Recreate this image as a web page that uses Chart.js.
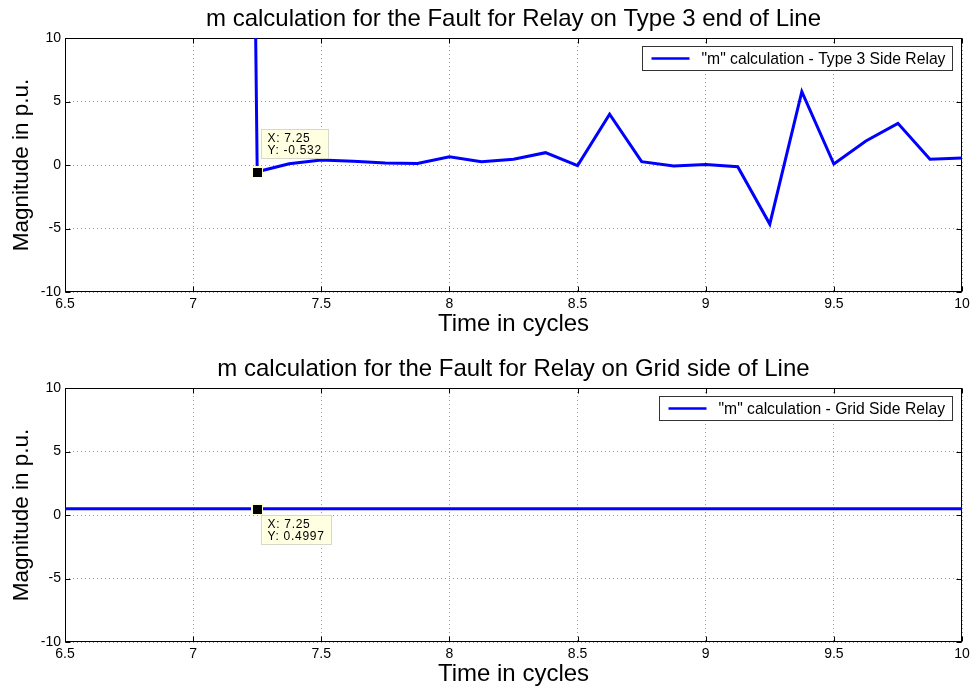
<!DOCTYPE html>
<html>
<head>
<meta charset="utf-8">
<script src="https://cdn.jsdelivr.net/npm/chart.js@4.4.0/dist/chart.umd.min.js"></script>
<style>
  html, body { margin: 0; padding: 0; background: #fff; overflow: hidden; }
  canvas { display: block; }
</style>
</head>
<body>
<canvas id="type3Chart" width="974" height="350"></canvas>
<canvas id="gridChart" width="974" height="337"></canvas>
<script>
// Time axis samples (cycles) and "m" values for the Type 3 end relay
const type3Times = [7.125, 7.25, 7.375, 7.5, 7.625, 7.75, 7.875, 8.0, 8.125, 8.25, 8.375, 8.5,
                    8.625, 8.75, 8.875, 9.0, 9.125, 9.25, 9.375, 9.5, 9.625, 9.75, 9.875, 10.0];
const type3Values = [220, -0.532, 0.1, 0.4, 0.3, 0.15, 0.12, 0.65, 0.25, 0.45, 0.97, -0.05,
                     4.0, 0.26, -0.08, 0.03, -0.13, -4.65, 5.77, 0.08, 1.89, 3.28, 0.45, 0.55];

// Time axis samples (cycles) and "m" values for the grid side relay
const gridTimes = [6.5, 6.625, 6.75, 6.875, 7.0, 7.125, 7.25, 7.375, 7.5, 7.625, 7.75, 7.875,
                   8.0, 8.125, 8.25, 8.375, 8.5, 8.625, 8.75, 8.875, 9.0, 9.125, 9.25, 9.375,
                   9.5, 9.625, 9.75, 9.875, 10.0];
const gridValues = [0.4997, 0.4997, 0.4997, 0.4997, 0.4997, 0.4997, 0.4997, 0.4997, 0.4997, 0.4997,
                    0.4997, 0.4997, 0.4997, 0.4997, 0.4997, 0.4997, 0.4997, 0.4997, 0.4997, 0.4997,
                    0.4997, 0.4997, 0.4997, 0.4997, 0.4997, 0.4997, 0.4997, 0.4997, 0.4997];

// Tick positions
const xTickValues = [6.5, 7, 7.5, 8, 8.5, 9, 9.5, 10];
const yTickValues = [-10, -5, 0, 5, 10];

// Data cursor readouts
const type3Tip = { x: 7.25, y: -0.532 };
const gridTip = { x: 7.25, y: 0.4997 };

const FONT = "'Liberation Sans', Arial, Helvetica, sans-serif";
Chart.defaults.font.family = FONT;
Chart.defaults.color = '#000';

// Box around the axes with inward tick marks on all four sides
const axesBox = {
  id: 'axesBox',
  beforeDatasetsDraw(chart) {
    const { ctx, chartArea: a, scales: { x, y } } = chart;
    const L = Math.round(a.left) + 0.5, R = Math.round(a.right) - 0.5;
    const T = Math.round(a.top) + 0.5, B = Math.round(a.bottom) - 0.5;
    ctx.save();
    ctx.strokeStyle = '#000';
    ctx.lineWidth = 1;
    ctx.strokeRect(L, T, R - L, B - T);
    ctx.beginPath();
    const len = 5;
    xTickValues.forEach(v => {
      const px = Math.round(x.getPixelForValue(v)) + 0.5;
      ctx.moveTo(px, B); ctx.lineTo(px, B - len);
      ctx.moveTo(px, T); ctx.lineTo(px, T + len);
    });
    yTickValues.forEach(v => {
      const py = Math.round(y.getPixelForValue(v)) + 0.5;
      ctx.moveTo(L, py); ctx.lineTo(L + len, py);
      ctx.moveTo(R, py); ctx.lineTo(R - len, py);
    });
    ctx.stroke();
    ctx.restore();
  }
};

// Legend box in the upper right corner of the axes
const cornerLegend = {
  id: 'cornerLegend',
  afterDatasetsDraw(chart) {
    const { ctx, chartArea: a } = chart;
    const ds = chart.data.datasets[0];
    ctx.save();
    ctx.font = '15.7px ' + FONT;
    const tw = ctx.measureText(ds.label).width;
    const h = 24;
    const w = 9 + 38 + 12 + tw + 8;
    const right = Math.round(a.right - 10) + 0.5;
    const left = Math.round(right - w) + 0.5;
    const top = Math.round(a.top + 8) + 0.5;
    ctx.fillStyle = '#fff';
    ctx.fillRect(left, top, right - left, h);
    ctx.strokeStyle = '#333';
    ctx.lineWidth = 1;
    ctx.strokeRect(left, top, right - left, h);
    ctx.strokeStyle = ds.borderColor;
    ctx.lineWidth = 2.5;
    ctx.beginPath();
    ctx.moveTo(left + 9, top + h / 2);
    ctx.lineTo(left + 47, top + h / 2);
    ctx.stroke();
    ctx.fillStyle = '#000';
    ctx.textBaseline = 'middle';
    ctx.textAlign = 'left';
    ctx.fillText(ds.label, left + 59, top + h / 2 + 1);
    ctx.restore();
  }
};

// Data cursor: square marker plus a small readout box
const dataTip = {
  id: 'dataTip',
  afterDatasetsDraw(chart, args, opts) {
    if (!opts.point) return;
    const { ctx, scales: { x, y } } = chart;
    const px = Math.round(x.getPixelForValue(opts.point.x));
    const py = Math.round(y.getPixelForValue(opts.point.y));
    ctx.save();
    // marker
    ctx.fillStyle = '#ffffd0';
    ctx.fillRect(px - 6, py - 6, 12, 12);
    ctx.fillStyle = '#000';
    ctx.fillRect(px - 4, py - 4, 9, 9);
    // readout
    const lines = ['X: ' + opts.point.x, 'Y: ' + opts.point.y];
    ctx.font = '12px ' + FONT;
    if ('letterSpacing' in ctx) ctx.letterSpacing = '0.7px';
    const tw = Math.max(...lines.map(s => ctx.measureText(s).width));
    const bw = Math.round(tw + 13), bh = 29;
    const bx = px + 4.5;
    const by = opts.place === 'above' ? py - 42.5 : py + 6.5;
    ctx.fillStyle = '#ffffe1';
    ctx.fillRect(bx, by, bw, bh);
    ctx.strokeStyle = '#d8d8c8';
    ctx.lineWidth = 1;
    ctx.strokeRect(bx, by, bw, bh);
    ctx.fillStyle = '#000';
    ctx.textBaseline = 'middle';
    ctx.textAlign = 'left';
    ctx.fillText(lines[0], bx + 6, by + 9);
    ctx.fillText(lines[1], bx + 6, by + 21);
    ctx.restore();
  }
};

function makeChart(canvasId, titleText, label, times, values, tip, place, padBottom) {
  return new Chart(document.getElementById(canvasId), {
    type: 'line',
    data: {
      datasets: [{
        label: label,
        data: times.map((t, i) => ({ x: t, y: values[i] })),
        borderColor: '#0000ff',
        backgroundColor: '#0000ff',
        borderWidth: 3,
        pointRadius: 0,
        tension: 0,
        fill: false
      }]
    },
    options: {
      responsive: false,
      animation: false,
      devicePixelRatio: 1,
      layout: { padding: { left: 0, right: 12, top: 0, bottom: padBottom } },
      plugins: {
        legend: { display: false },
        tooltip: { enabled: false },
        title: {
          display: true,
          fullSize: false,
          text: titleText,
          color: '#000',
          font: { size: 24, weight: 'normal' },
          padding: { top: 5, bottom: 4.2 }
        },
        dataTip: { point: tip, place: place }
      },
      scales: {
        x: {
          type: 'linear',
          min: 6.5,
          max: 10,
          afterBuildTicks: s => { s.ticks = xTickValues.map(v => ({ value: v })); },
          afterFit: s => { s.height = 45; },
          ticks: { padding: 4, font: { size: 14 }, color: '#000', maxRotation: 0, autoSkip: false,
                   callback: v => String(v) },
          grid: { color: '#9a9a9a', lineWidth: 1, drawTicks: false },
          border: { display: false, dash: [1, 3] },
          title: { display: true, text: 'Time in cycles', font: { size: 24 }, padding: { top: 0, bottom: -1.5 } }
        },
        y: {
          min: -10,
          max: 10,
          afterBuildTicks: s => { s.ticks = yTickValues.map(v => ({ value: v })); },
          afterFit: s => { s.width = 65; },
          ticks: { padding: 4, font: { size: 14 }, color: '#000', autoSkip: false,
                   callback: v => String(v) },
          grid: { color: '#9a9a9a', lineWidth: 1, drawTicks: false },
          border: { display: false, dash: [1, 3] },
          title: { display: true, text: 'Magnitude in p.u.', font: { size: 22.5 }, padding: { top: 8.5, bottom: 0 } }
        }
      }
    },
    plugins: [axesBox, cornerLegend, dataTip]
  });
}

makeChart('type3Chart', 'm calculation for the Fault for Relay on Type 3 end of Line',
          '"m" calculation - Type 3 Side Relay', type3Times, type3Values, type3Tip, 'above', 13);
makeChart('gridChart', 'm calculation for the Fault for Relay on Grid side of Line',
          '"m" calculation - Grid Side Relay', gridTimes, gridValues, gridTip, 'below', 0);
</script>
</body>
</html>
